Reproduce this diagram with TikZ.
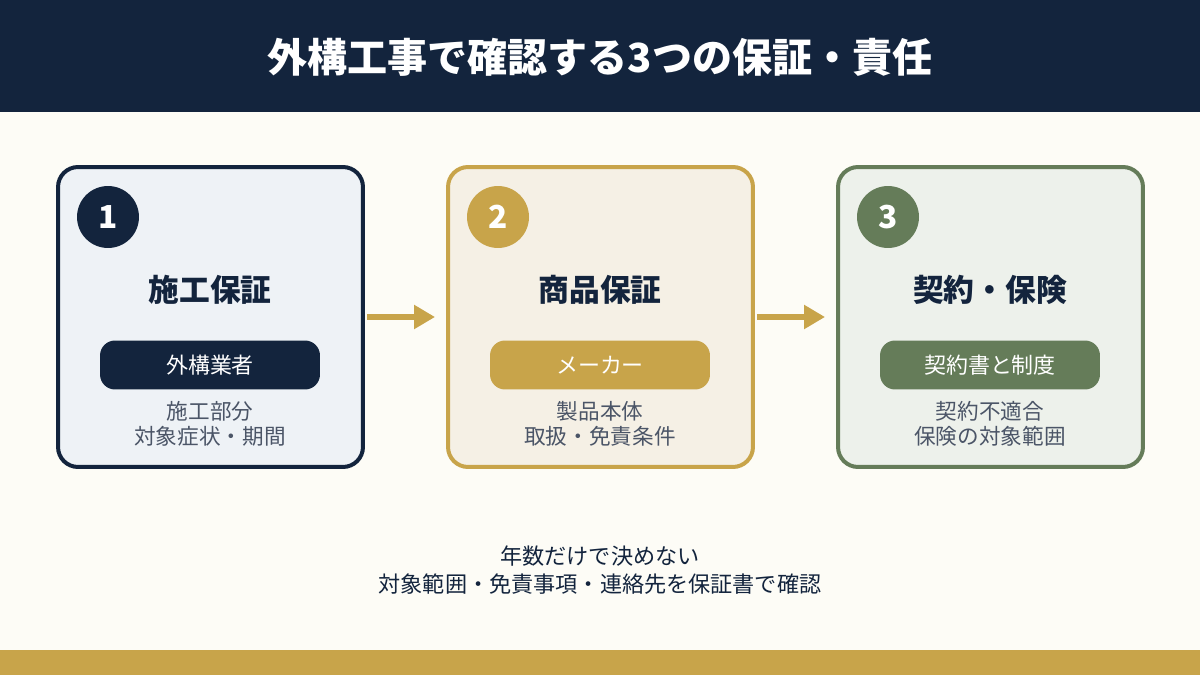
\documentclass[tikz,border=0pt]{standalone}
\usepackage{fontspec}
\setmainfont{Noto Sans CJK JP}
\usetikzlibrary{arrows.meta,positioning,calc}

\definecolor{navy}{HTML}{13243D}
\definecolor{gold}{HTML}{C8A44A}
\definecolor{moss}{HTML}{657C59}
\definecolor{cream}{HTML}{FDFCF6}
\definecolor{slate}{HTML}{4B5567}
\definecolor{fillA}{HTML}{EEF2F6}
\definecolor{fillB}{HTML}{F5F0E5}
\definecolor{fillC}{HTML}{EDF1EB}

\begin{document}
\begin{tikzpicture}[
  x=0.02cm,y=-0.02cm,
  card/.style={rectangle,rounded corners=0.4cm,line width=0.08cm,
    minimum width=6.10cm,minimum height=6.00cm},
  badge/.style={circle,minimum size=1.24cm,inner sep=0pt,text=white,
    font=\fontsize{18pt}{18pt}\selectfont\bfseries},
  ttl/.style={text=navy,font=\fontsize{17.5pt}{20pt}\selectfont\bfseries},
  pill/.style={rectangle,rounded corners=0.3cm,minimum width=4.40cm,
    minimum height=0.98cm,inner sep=0pt,text=white,
    font=\fontsize{12.5pt}{14pt}\selectfont},
  desc/.style={text=slate,align=center,
    font=\fontsize{12.3pt}{14.2pt}\selectfont},
  flow/.style={line width=0.12cm,draw=gold,shorten <=0.04cm,shorten >=0.22cm,
    -{Triangle[length=0.42cm,width=0.46cm]}}
]

% ---- background, header and footer bar ----
\fill[cream] (0,0) rectangle (1200,675);
\fill[navy] (0,0) rectangle (1200,112);
\fill[gold] (0,650) rectangle (1200,675);
\node[text=white,font=\fontsize{22.8pt}{26pt}\selectfont\bfseries] (title) at (600,57)
  {外構工事で確認する3つの保証・責任};

% ---- the three cards ----
\node[card,draw=navy,fill=fillA] (card1) at (210.5,317) {};
\node[card,draw=gold,fill=fillB] (card2) at (600.5,317) {};
\node[card,draw=moss,fill=fillC] (card3) at (990.5,317) {};

% ---- card 1 ----
\node[badge,fill=navy] (num1) at (108,217) {1};
\node[ttl] (head1) at (210,290) {施工保証};
\node[pill,fill=navy] (who1) at (210,365) {外構業者};
\node[desc] (txt1) at (210,424) {施工部分\\対象症状・期間};

% ---- card 2 ----
\node[badge,fill=gold] (num2) at (498,217) {2};
\node[ttl] (head2) at (600,290) {商品保証};
\node[pill,fill=gold] (who2) at (600,365) {メーカー};
\node[desc] (txt2) at (600,424) {製品本体\\取扱・免責条件};

% ---- card 3 ----
\node[badge,fill=moss] (num3) at (888,217) {3};
\node[ttl] (head3) at (990,290) {契約・保険};
\node[pill,fill=moss] (who3) at (990,365) {契約書と制度};
\node[desc] (txt3) at (990,424) {契約不適合\\保険の対象範囲};

% ---- arrows between cards ----
\draw[flow] (card1.east) -- (card2.west);
\draw[flow] (card2.east) -- (card3.west);

% ---- closing note ----
\node[text=navy,align=center,font=\fontsize{12.6pt}{16pt}\selectfont] (note) at (600,570)
  {年数だけで決めない\\対象範囲・免責事項・連絡先を保証書で確認};

\end{tikzpicture}
\end{document}
